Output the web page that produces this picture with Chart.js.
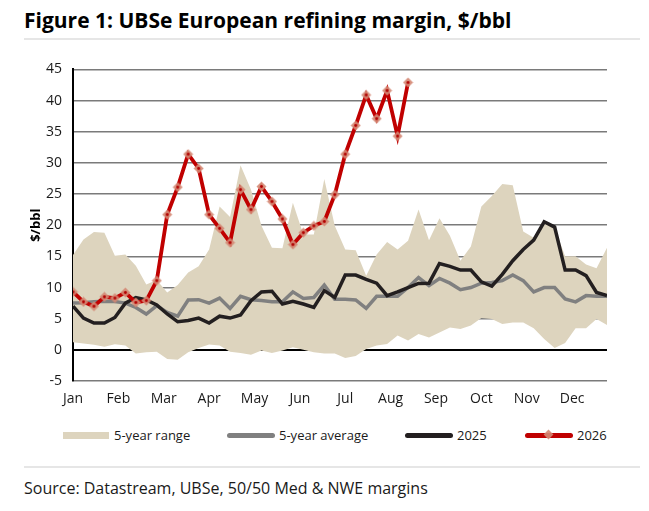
<!DOCTYPE html>
<html>

<head>
  <title>UBSe European refining margin</title>
  <script src="https://cdn.jsdelivr.net/npm/chart.js"></script>
  <style type="text/css">
    body {
      margin: 0;
      width: 649px;
      height: 511px;
      background: #fff;
      font-family: "Open Sans", "Noto Sans", sans-serif;
      color: #1a1a1a;
      position: relative;
      overflow: hidden;
    }
    .title {
      position: absolute;
      left: 24px;
      top: 6px;
      font-size: 21px;
      line-height: 28px;
      font-weight: bold;
      color: #000;
      white-space: nowrap;
    }
    .rule {
      position: absolute;
      left: 24px;
      width: 616px;
      height: 2px;
      background: #e6e6e6;
    }
    .chart-box {
      position: absolute;
      left: 0;
      top: 50px;
      width: 649px;
      height: 370px;
    }
    .legend-item {
      position: absolute;
      top: 426px;
      height: 18px;
      font-size: 13px;
      line-height: 18px;
      white-space: nowrap;
    }
    .swatch {
      position: absolute;
      top: 7px;
      height: 5px;
      width: 48px;
      border-radius: 2.5px;
    }
    .diamond {
      position: absolute;
      left: 20px;
      top: -2px;
      width: 7px;
      height: 7px;
      transform: rotate(45deg);
      background: rgba(212, 135, 115, 0.9);
    }
    .source {
      position: absolute;
      left: 24px;
      top: 477px;
      font-size: 16px;
      line-height: 22px;
      white-space: nowrap;
    }
  </style>
</head>

<body>
  <div class="title">Figure 1: UBSe European refining margin, $/bbl</div>
  <div class="rule" style="top: 38px;"></div>

  <div class="chart-box">
    <canvas id="myChart"></canvas>
  </div>

  <div class="legend-item" style="left: 63px;">
    <span class="swatch" style="left: 0; width: 46px; height: 7px; top: 6px; border-radius: 0; background: #ddd4be;"></span>
    <span style="position: absolute; left: 51px;">5-year range</span>
  </div>
  <div class="legend-item" style="left: 227px;">
    <span class="swatch" style="left: 0; background: #808080;"></span>
    <span style="position: absolute; left: 52px;">5-year average</span>
  </div>
  <div class="legend-item" style="left: 405px;">
    <span class="swatch" style="left: 0; background: #231f20;"></span>
    <span style="position: absolute; left: 52px;">2025</span>
  </div>
  <div class="legend-item" style="left: 525px;">
    <span class="swatch" style="left: 0; background: #c00000;"><span class="diamond"></span></span>
    <span style="position: absolute; left: 52px;">2026</span>
  </div>

  <div class="rule" style="top: 466px;"></div>
  <div class="source">Source: Datastream, UBSe, 50/50 Med &amp; NWE margins</div>

  <script>
    // weekly values, week 0 = first week of Jan
    const monthLabels = ['Jan', 'Feb', 'Mar', 'Apr', 'May', 'Jun', 'Jul', 'Aug', 'Sep', 'Oct', 'Nov', 'Dec'];
    const rangeHigh = [15.2, 17.7, 18.9, 18.8, 15.1, 15.3, 13.5, 10.5, 11.2, 9.2, 10.4, 12.4, 13.4,
      16.1, 23.0, 21.3, 29.6, 25.7, 19.9, 16.4, 16.3, 23.6, 18.5, 18.5, 27.4, 19.9,
      16.1, 16.0, 11.9, 15.3, 17.3, 16.1, 17.5, 22.5, 17.6, 21.1, 18.3, 14.3, 16.6,
      23.0, 24.7, 26.6, 26.4, 19.0, 18.0, 20.4, 19.6, 15.0, 15.0, 13.7, 13.1, 16.4];
    const rangeLow = [1.2, 1.0, 0.8, 0.5, 0.9, 0.7, -0.6, -0.4, -0.3, -1.45, -1.6, -0.4, 0.3,
      0.85, 0.7, -0.3, -0.5, -0.8, -0.1, -0.5, -0.1, 0.4, 0.0, -0.4, -0.6, -0.6,
      -1.3, -1.0, 0.15, 0.7, 0.95, 2.3, 1.5, 2.55, 2.0, 2.8, 3.6, 3.35, 3.9,
      5.1, 4.95, 4.15, 4.4, 4.4, 3.45, 1.75, 0.3, 1.1, 3.45, 3.45, 4.95, 4.0];
    const avg5y = [7.5, 7.55, 7.7, 7.8, 7.75, 7.5, 6.8, 5.75, 7.1, 6.0, 5.4, 8.0, 8.05,
      7.5, 8.3, 6.65, 8.6, 8.05, 7.9, 7.7, 7.7, 9.3, 8.25, 8.4, 10.4, 8.1,
      8.1, 8.0, 6.65, 8.6, 8.6, 8.6, 10.0, 11.6, 10.3, 11.45, 10.7, 9.65, 10.0,
      10.7, 10.8, 11.1, 12.0, 11.1, 9.3, 10.0, 10.0, 8.15, 7.7, 8.7, 8.6, 8.6];
    const y2025 = [7.0, 5.1, 4.3, 4.3, 5.2, 7.5, 8.4, 8.0, 7.2, 5.75, 4.5, 4.7, 5.1,
      4.3, 5.4, 5.1, 5.6, 7.9, 9.3, 9.4, 7.35, 7.8, 7.35, 6.8, 9.5, 8.4,
      12.0, 12.0, 11.3, 10.7, 8.7, 9.3, 10.0, 10.65, 10.7, 13.85, 13.4, 12.8, 12.8,
      10.9, 10.2, 12.1, 14.3, 16.1, 17.6, 20.55, 19.7, 12.8, 12.8, 11.9, 9.2, 8.7];
    const y2026 = [9.3, 7.7, 7.0, 8.5, 8.3, 9.2, 7.6, 7.9, 11.1, 21.7, 26.1, 31.4, 29.1,
      21.7, 19.5, 17.2, 25.7, 22.5, 26.2, 23.8, 21.0, 16.9, 18.8, 19.9, 20.6, 24.9,
      31.4, 36.0, 40.9, 37.1, 41.6, 34.3, 42.9];
    const yTicks = [-5, 0, 5, 10, 15, 20, 25, 30, 35, 40, 45];

    const toPoints = arr => arr.map((v, i) => ({ x: i, y: v }));

    // diamond marker with a red dot, as in the original
    const marker = document.createElement('canvas');
    marker.width = 11;
    marker.height = 11;
    const mctx = marker.getContext('2d');
    mctx.fillStyle = 'rgba(212, 135, 115, 0.9)';
    mctx.beginPath();
    mctx.moveTo(5.5, 0.5);
    mctx.lineTo(10.5, 5.5);
    mctx.lineTo(5.5, 10.5);
    mctx.lineTo(0.5, 5.5);
    mctx.closePath();
    mctx.fill();
    mctx.fillStyle = '#b00000';
    mctx.beginPath();
    mctx.arc(5.5, 5.5, 1.4, 0, Math.PI * 2);
    mctx.fill();

    const tickFont = { family: '"Open Sans", "Noto Sans", sans-serif', size: 14 };

    var ctx = document.getElementById('myChart').getContext('2d');
    var myChart = new Chart(ctx, {
      type: 'line',
      data: {
        datasets: [
          {
            label: '5-year range',
            data: toPoints(rangeHigh),
            borderWidth: 0,
            pointRadius: 0,
            backgroundColor: '#ddd4be',
            fill: '+1',
            order: 10
          },
          {
            label: 'range low',
            data: toPoints(rangeLow),
            borderWidth: 0,
            pointRadius: 0,
            fill: false,
            order: 10
          },
          {
            label: '5-year average',
            data: toPoints(avg5y),
            borderColor: '#808080',
            borderWidth: 3.5,
            pointRadius: 0,
            order: 3
          },
          {
            label: '2025',
            data: toPoints(y2025),
            borderColor: '#231f20',
            borderWidth: 3.5,
            pointRadius: 0,
            order: 2
          },
          {
            label: '2026',
            data: toPoints(y2026),
            borderColor: '#c00000',
            borderWidth: 3.8,
            pointStyle: marker,
            pointRadius: 5,
            order: 1
          }
        ]
      },
      options: {
        responsive: true,
        maintainAspectRatio: false,
        animation: false,
        layout: { padding: { top: 19, right: 42, bottom: 9, left: 0 } },
        plugins: {
          legend: { display: false },
          tooltip: { enabled: false }
        },
        scales: {
          x: {
            type: 'linear',
            min: 0,
            max: 51,
            grid: { display: false },
            border: { display: false },
            afterBuildTicks: function (scale) {
              scale.ticks = monthLabels.map((m, k) => ({ value: k * 52 / 12 }));
            },
            afterFit: function (scale) {
              scale.height = 30;
            },
            ticks: {
              autoSkip: false,
              maxRotation: 0,
              padding: 2,
              color: '#1a1a1a',
              font: tickFont,
              callback: function (value, index) {
                return monthLabels[index];
              }
            }
          },
          y: {
            min: -5,
            max: 45,
            afterBuildTicks: function (scale) {
              scale.ticks = yTicks.map(v => ({ value: v }));
            },
            afterFit: function (scale) {
              scale.width = 73;
            },
            border: { display: true, color: '#000', width: 2 },
            grid: {
              drawTicks: false,
              color: ctx => ctx.tick && ctx.tick.value === 0 ? '#000' : '#7a7a7a',
              lineWidth: ctx => ctx.tick && ctx.tick.value === 0 ? 2 : 1.5
            },
            title: {
              display: true,
              text: '$/bbl',
              color: '#000',
              font: { family: '"Open Sans", "Noto Sans", sans-serif', size: 13, weight: 'bold' },
              padding: { top: 28, bottom: 0 }
            },
            ticks: {
              padding: 11,
              color: '#1a1a1a',
              font: tickFont
            }
          }
        }
      }
    });
  </script>
</body>

</html>
